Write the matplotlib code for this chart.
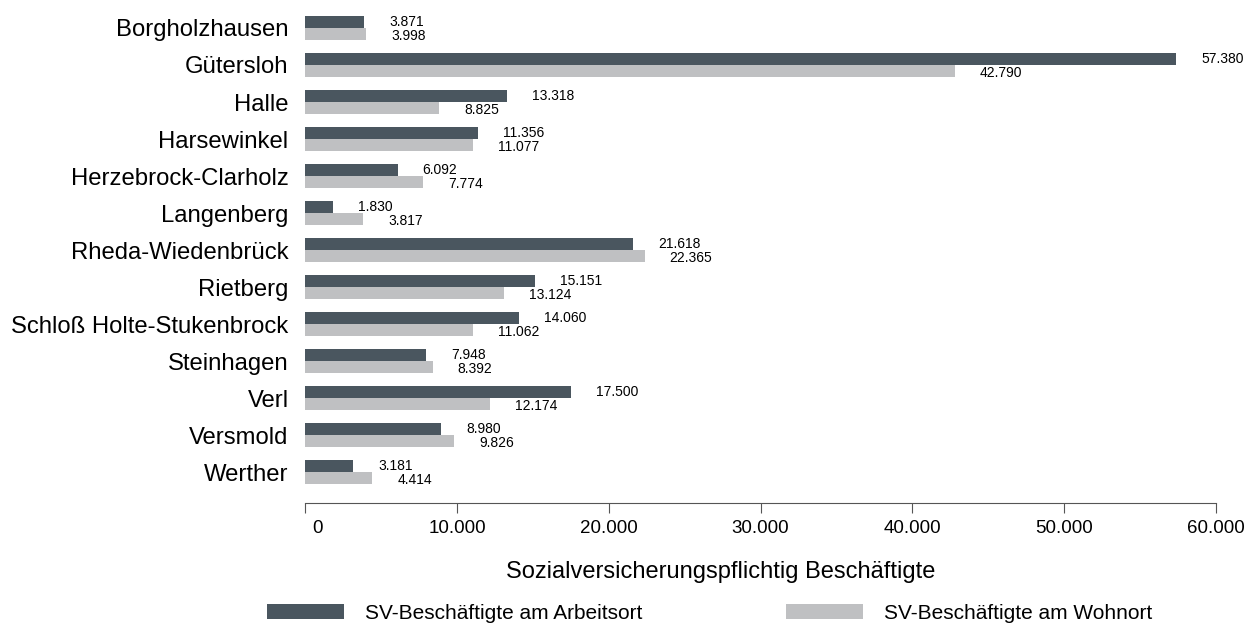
import numpy as np
import matplotlib.pyplot as plt
import matplotlib.transforms as mtransforms
from matplotlib.ticker import FuncFormatter

plt.rcParams['font.family'] = ['Liberation Sans', 'DejaVu Sans']

orte = ['Borgholzhausen', 'Gütersloh', 'Halle', 'Harsewinkel', 'Herzebrock-Clarholz',
        'Langenberg', 'Rheda-Wiedenbrück', 'Rietberg', 'Schloß Holte-Stukenbrock',
        'Steinhagen', 'Verl', 'Versmold', 'Werther']
arbeitsort = [3871, 57380, 13318, 11356, 6092, 1830, 21618, 15151, 14060, 7948, 17500, 8980, 3181]
wohnort = [3998, 42790, 8825, 11077, 7774, 3817, 22365, 13124, 11062, 8392, 12174, 9826, 4414]
xticks = [0, 10000, 20000, 30000, 40000, 50000, 60000]

dunkel = '#4a565f'
hell = '#bfc0c2'

def de(v):
    return f'{int(v):,}'.replace(',', '.')

fig = plt.figure(figsize=(12.56, 6.26), dpi=100)
ax = fig.add_axes([0.243, 0.196, 0.725, 0.796])

y = np.arange(len(orte))
h = 0.32
b1 = ax.barh(y - h / 2, arbeitsort, height=h, color=dunkel, label='SV-Beschäftigte am Arbeitsort')
b2 = ax.barh(y + h / 2, wohnort, height=h, color=hell, label='SV-Beschäftigte am Wohnort')

for i in range(len(orte)):
    ax.text(arbeitsort[i] + 1650, i - 0.17, de(arbeitsort[i]), fontsize=10, va='center', ha='left')
    ax.text(wohnort[i] + 1650, i + 0.22, de(wohnort[i]), fontsize=10, va='center', ha='left')

ax.set_ylim(12.84, -0.62)
ax.set_xlim(0, 60000)
ax.set_yticks(y)
ax.set_yticklabels(orte, fontsize=17.2)
ax.tick_params(axis='y', length=0, pad=12)
ax.set_xticks(xticks)
ax.xaxis.set_major_formatter(FuncFormatter(lambda v, p: de(v)))
ax.tick_params(axis='x', length=7, color='#555555', labelsize=13.5, pad=5)
for s in ['top', 'right', 'left']:
    ax.spines[s].set_visible(False)
ax.spines['bottom'].set_color('#555555')
ax.set_xlabel('Sozialversicherungspflichtig Beschäftigte', fontsize=17)
ax.xaxis.set_label_coords(0.456, -0.115)

# die "0" sitzt im Original etwas rechts vom Tick
null = ax.get_xticklabels()[0]
null.set_transform(null.get_transform() + mtransforms.ScaledTranslation(12 / 100, 0, fig.dpi_scale_trans))

fig.legend(handles=[b1, b2], loc='lower center', bbox_to_anchor=(0.565, -0.025), ncol=2,
           frameon=False, fontsize=15, handlelength=3.7, handleheight=0.75,
           columnspacing=6.9, handletextpad=1.0)

fig.savefig('out.png', dpi=100)
